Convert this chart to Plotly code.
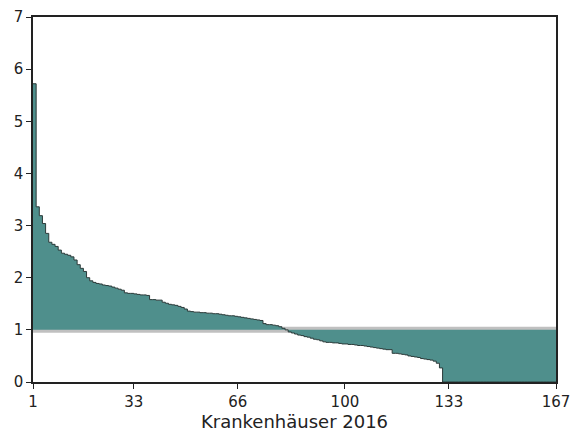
import plotly.graph_objects as go

# Sorted values per hospital (index 1..167)
values = [
    5.72, 3.36, 3.19, 3.04, 2.85, 2.68, 2.64, 2.60, 2.53, 2.47,
    2.45, 2.43, 2.40, 2.34, 2.25, 2.18, 2.12, 2.00, 1.94, 1.91,
    1.89, 1.88, 1.86, 1.85, 1.84, 1.82, 1.80, 1.78, 1.76, 1.71,
    1.70, 1.70, 1.69, 1.68, 1.67, 1.67, 1.66, 1.58, 1.58, 1.57,
    1.57, 1.53, 1.51, 1.49, 1.48, 1.47, 1.45, 1.43, 1.40, 1.36,
    1.35, 1.34, 1.34, 1.33, 1.33, 1.32, 1.32, 1.31, 1.31, 1.30,
    1.29, 1.28, 1.27, 1.27, 1.26, 1.25, 1.24, 1.23, 1.22, 1.21,
    1.20, 1.19, 1.18, 1.12, 1.10, 1.10, 1.09, 1.08, 1.06, 1.03,
    1.00, 0.96, 0.94, 0.92, 0.90, 0.89, 0.87, 0.86, 0.84, 0.82,
    0.81, 0.79, 0.77, 0.76, 0.76, 0.75, 0.75, 0.74, 0.73, 0.73,
    0.72, 0.72, 0.71, 0.70, 0.70, 0.69, 0.68, 0.67, 0.66, 0.65,
    0.64, 0.63, 0.62, 0.62, 0.55, 0.55, 0.54, 0.53, 0.52, 0.50,
    0.49, 0.48, 0.47, 0.45, 0.44, 0.43, 0.42, 0.40, 0.36, 0.27,
] + [0.0] * 37

hospitals = list(range(1, len(values) + 1))
reference = 1.0
x_ticks = [1, 33, 66, 100, 133, 167]
y_ticks = [0, 1, 2, 3, 4, 5, 6, 7]
x_title = "Krankenhäuser 2016"

fig = go.Figure()
# invisible baseline at the reference value
fig.add_trace(go.Scatter(
    x=hospitals, y=[reference] * len(hospitals), mode="lines",
    line=dict(width=0, shape="hv"), hoverinfo="skip", showlegend=False))
# data step curve filled to the reference
fig.add_trace(go.Scatter(
    x=hospitals, y=values, mode="lines", fill="tonexty",
    fillcolor="#4f8f8c", line=dict(color="#2b3a39", width=1, shape="hv"),
    showlegend=False))

fig.add_shape(type="line", xref="paper", yref="y", x0=0, x1=1,
              y0=reference, y1=reference, layer="below",
              line=dict(color="#c0c0c0", width=6))

font = dict(family="DejaVu Sans, Verdana, sans-serif", size=15, color="#222")
fig.update_layout(
    width=570, height=432,
    margin=dict(l=33, r=14, t=17, b=50),
    plot_bgcolor="white", paper_bgcolor="white",
    font=font,
    xaxis=dict(range=[1, 167], tickvals=x_ticks, ticks="outside", ticklen=5,
               tickcolor="#222", showline=True, linecolor="#222", linewidth=1.5,
               mirror=True, showgrid=False, zeroline=False, automargin=False,
               ticklabeloverflow="allow",
               title=dict(text=x_title, standoff=2)),
    yaxis=dict(range=[0, 7], tickvals=y_ticks, ticks="outside", ticklen=5,
               tickcolor="#222", showline=True, linecolor="#222", linewidth=1.5,
               mirror=True, showgrid=False, zeroline=False, automargin=False,
               ticklabeloverflow="allow"),
)
fig.write_html("out.html", config={"displayModeBar": False},
               post_script="document.body.style.margin='0';")
